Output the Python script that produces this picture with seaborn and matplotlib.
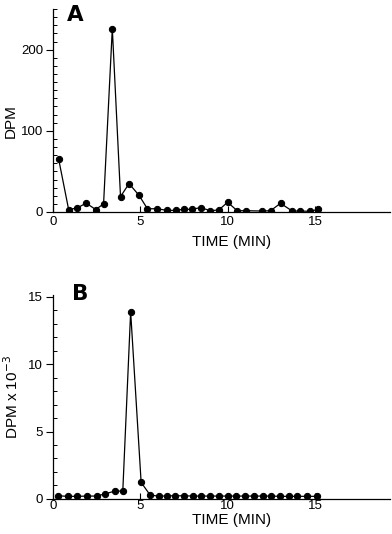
import matplotlib
matplotlib.use("Agg")
import matplotlib.pyplot as plt
import seaborn as sns
import pandas as pd
from matplotlib.ticker import MultipleLocator

# Panel A data (DPM vs time)
time_a = [0.33, 0.9, 1.4, 1.9, 2.45, 2.9, 3.4, 3.87, 4.36, 4.93, 5.41, 5.96, 6.53,
          7.03, 7.48, 7.98, 8.46, 9.0, 9.5, 10.0, 10.55, 11.05, 11.96, 12.46,
          13.03, 13.7, 14.15, 14.74, 15.2]
dpm_a = [65, 3, 5, 11, 3, 10, 226, 19, 35, 20.5, 4, 4, 2,
         2, 3.3, 3.3, 5.5, 1.6, 2.5, 12, 1.6, 1.6, 1.2, 1.6,
         10.7, 1.2, 1.2, 0.8, 3.5]

# Panel B data (DPM x 10^-3 vs time)
time_b = [0.3, 0.85, 1.4, 1.95, 2.5, 3.0, 3.55, 4.0, 4.45, 5.05, 5.55, 6.05, 6.55,
          7.0, 7.5, 8.0, 8.5, 9.0, 9.5, 10.0, 10.5, 11.0, 11.5, 12.0, 12.5, 13.0,
          13.5, 14.0, 14.55, 15.1]
dpm_b = [0.22, 0.18, 0.18, 0.2, 0.2, 0.37, 0.57, 0.57, 13.9, 1.22, 0.3, 0.18, 0.22,
         0.22, 0.22, 0.2, 0.2, 0.2, 0.2, 0.2, 0.2, 0.2, 0.2, 0.2, 0.2, 0.18,
         0.18, 0.18, 0.18, 0.18]

xticks = [0, 5, 10, 15]
xlabel = "TIME (MIN)"

sns.set_theme(style="ticks")
plt.rcParams['font.family'] = ['Liberation Sans', 'DejaVu Sans']

fig = plt.figure(figsize=(3.92, 5.34), dpi=100)
ax_a = fig.add_axes([0.135, 0.603, 0.86, 0.380])
ax_b = fig.add_axes([0.135, 0.066, 0.86, 0.3816])

df_a = pd.DataFrame({"t": time_a, "v": dpm_a})
df_b = pd.DataFrame({"t": time_b, "v": dpm_b})

for ax, df, ymax, major, minor, ylab, panel, xpad in [
        (ax_a, df_a, 250, 100, 10, "DPM", "A", 3),
        (ax_b, df_b, 15.15, 5, 1, "DPM x 10$^{-3}$", "B", 1)]:
    sns.lineplot(data=df, x="t", y="v", ax=ax, color="black", linewidth=0.9,
                 marker="o", markersize=4.5, markeredgecolor="black",
                 markerfacecolor="black", sort=False)
    ax.set_xlim(0, 19.3)
    ax.set_ylim(0, ymax)
    ax.set_xticks(xticks)
    ax.yaxis.set_major_locator(MultipleLocator(major))
    ax.yaxis.set_minor_locator(MultipleLocator(minor))
    ax.tick_params(axis="x", direction="in", length=4, width=0.8, pad=xpad,
                   labelsize=9.5, color="black", labelcolor="black")
    ax.tick_params(axis="y", which="major", direction="out", length=5, width=0.8,
                   pad=2, labelsize=9.5, color="black", labelcolor="black")
    ax.tick_params(axis="y", which="minor", direction="in", length=3, width=0.7,
                   color="black")
    for s in ["top", "right"]:
        ax.spines[s].set_visible(False)
    for s in ["left", "bottom"]:
        ax.spines[s].set_color("black")
        ax.spines[s].set_linewidth(0.9)
    ax.set_ylabel(ylab, fontsize=11, color="black")
    ax.set_xlabel(xlabel, fontsize=11, color="black")
    ax.text(0.042 if panel == "A" else 0.058, 1.018 if panel == "A" else 1.052,
            panel, transform=ax.transAxes, fontsize=15.5, fontweight="heavy",
            family="DejaVu Sans", va="top", ha="left", color="black")

ax_a.yaxis.set_label_coords(-0.104, 0.448)
ax_a.xaxis.set_label_coords(0.53, -0.113)
ax_b.yaxis.set_label_coords(-0.095, 0.5)
ax_b.xaxis.set_label_coords(0.53, -0.07)

fig.savefig("out.png", dpi=100)
